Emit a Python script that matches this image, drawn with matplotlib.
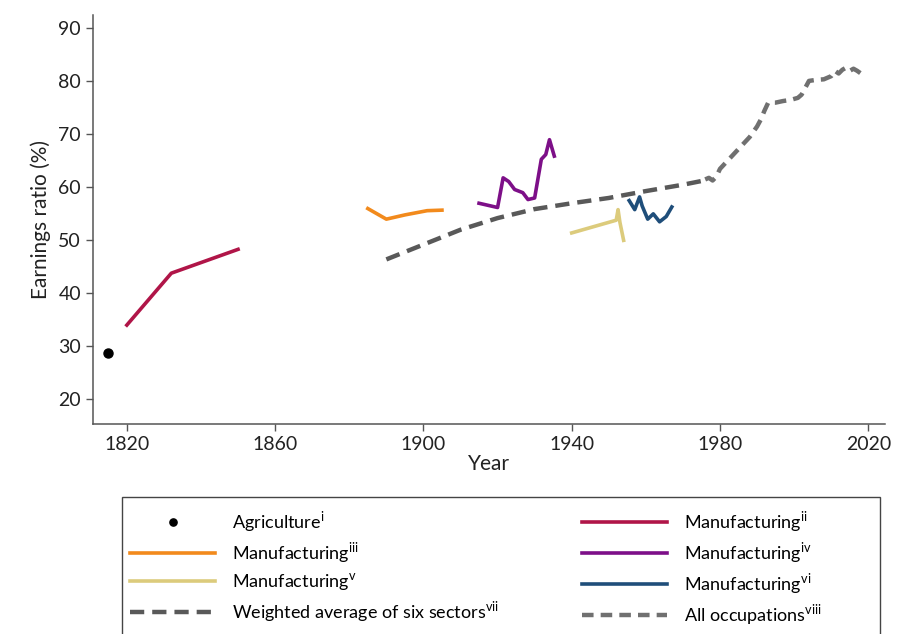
import numpy as np
import matplotlib
matplotlib.use('Agg')
import matplotlib.pyplot as plt
from matplotlib.patches import Rectangle

plt.rcParams['font.family'] = ['Lato', 'DejaVu Sans']
plt.rcParams['mathtext.fontset'] = 'custom'
plt.rcParams['mathtext.rm'] = 'Lato'

# data
agri_year = [1815]
agri_val = [28.7]

m2_year = [1820, 1832, 1850]
m2_val = [34.0, 43.8, 48.3]

m3_year = [1885, 1890, 1895, 1901, 1905]
m3_val = [56.0, 54.0, 54.8, 55.6, 55.7]

m4_year = [1915, 1920, 1921.5, 1923, 1924.6, 1926.8, 1928.2, 1930, 1931.8, 1933, 1934, 1935.3]
m4_val = [57.0, 56.2, 61.8, 61.1, 59.6, 59.0, 57.7, 58.0, 65.3, 66.2, 69.0, 65.9]

m5_year = [1940, 1945, 1950, 1952, 1952.5, 1953, 1954]
m5_val = [51.4, 52.4, 53.4, 53.8, 55.8, 53.4, 50.0]

m6_year = [1955.5, 1957, 1958.3, 1959, 1960.5, 1962, 1963.7, 1965.5, 1967]
m6_val = [57.5, 55.8, 58.2, 56.5, 54.0, 55.0, 53.5, 54.5, 56.3]

wavg_year = [1890, 1900, 1910, 1920, 1930, 1940, 1950, 1960, 1970, 1975]
wavg_val = [46.4, 49.2, 52.0, 54.2, 55.9, 57.0, 58.0, 59.3, 60.5, 61.2]

allocc_year = [1976, 1977, 1978, 1979, 1980, 1982, 1984, 1986, 1988, 1990, 1991, 1992,
               1993, 1995, 1997, 1999, 2001, 2002, 2003, 2004, 2006, 2008, 2010, 2011,
               2012, 2013, 2014, 2015, 2016, 2017, 2018]
allocc_val = [61.5, 61.8, 61.3, 62.0, 63.5, 65.0, 66.5, 68.0, 69.5, 71.5, 72.8, 74.5,
              76.0, 76.0, 76.3, 76.5, 76.9, 77.5, 78.8, 80.1, 80.3, 80.4, 81.0, 82.0,
              81.5, 82.2, 82.6, 82.0, 82.4, 82.0, 81.5]

W, H = 909, 634
fig = plt.figure(figsize=(W / 100, H / 100), dpi=100)
ax = fig.add_axes([0.102, 0.331, 0.872, 0.645])

lw = 2.6
h_agri, = ax.plot(agri_year, agri_val, 'o', color='black', markersize=6.5, linestyle='none')
h2, = ax.plot(m2_year, m2_val, color='#b01548', lw=lw)
h3, = ax.plot(m3_year, m3_val, color='#f28a1c', lw=lw)
h4, = ax.plot(m4_year, m4_val, color='#7d0f88', lw=lw)
h5, = ax.plot(m5_year, m5_val, color='#dccb7c', lw=lw)
h6, = ax.plot(m6_year, m6_val, color='#1f4e7a', lw=lw)
hw, = ax.plot(wavg_year, wavg_val, color='#595959', lw=3.2, dashes=(3.2, 1.8))
ha, = ax.plot(allocc_year, allocc_val, color='#707070', lw=3.2, dashes=(2.6, 1.6))

ax.set_xlim(1810.8, 2024.6)
ax.set_ylim(15.3, 92.5)
ax.set_xticks([1820, 1860, 1900, 1940, 1980, 2020])
ax.set_yticks([20, 30, 40, 50, 60, 70, 80, 90])
ax.tick_params(axis='both', labelsize=14, color='#555555', length=5, width=1, labelcolor='#222222')
for s in ['top', 'right']:
    ax.spines[s].set_visible(False)
for s in ['left', 'bottom']:
    ax.spines[s].set_color('#555555')
    ax.spines[s].set_linewidth(1.1)
ax.set_xlabel('Year', fontsize=15, labelpad=1, color='#222222')
ax.set_ylabel('Earnings ratio (%)', fontsize=15, labelpad=5, color='#222222')

handles = [h_agri, h3, h5, hw, h2, h4, h6, ha]
labels = [r'Agriculture$^{\mathrm{i}}$',
          r'Manufacturing$^{\mathrm{iii}}$',
          r'Manufacturing$^{\mathrm{v}}$',
          r'Weighted average of six sectors$^{\mathrm{vii}}$',
          r'Manufacturing$^{\mathrm{ii}}$',
          r'Manufacturing$^{\mathrm{iv}}$',
          r'Manufacturing$^{\mathrm{vi}}$',
          r'All occupations$^{\mathrm{viii}}$']
leg = fig.legend(handles, labels, ncol=2, loc='upper left',
                 bbox_to_anchor=(123 / W, 1 - 502 / H), borderaxespad=0,
                 fontsize=13, handlelength=4.7, handletextpad=0.95,
                 labelspacing=0.34, borderpad=0.4, columnspacing=4.6,
                 frameon=False, markerscale=0.8)

# legend box, drawn wider than its content as in the original
fig.patches.append(Rectangle((122 / W, 1 - 640 / H), 758 / W, 143 / H,
                             transform=fig.transFigure, fill=False,
                             edgecolor='#444444', lw=1.0))

fig.savefig('out.png', dpi=100)
